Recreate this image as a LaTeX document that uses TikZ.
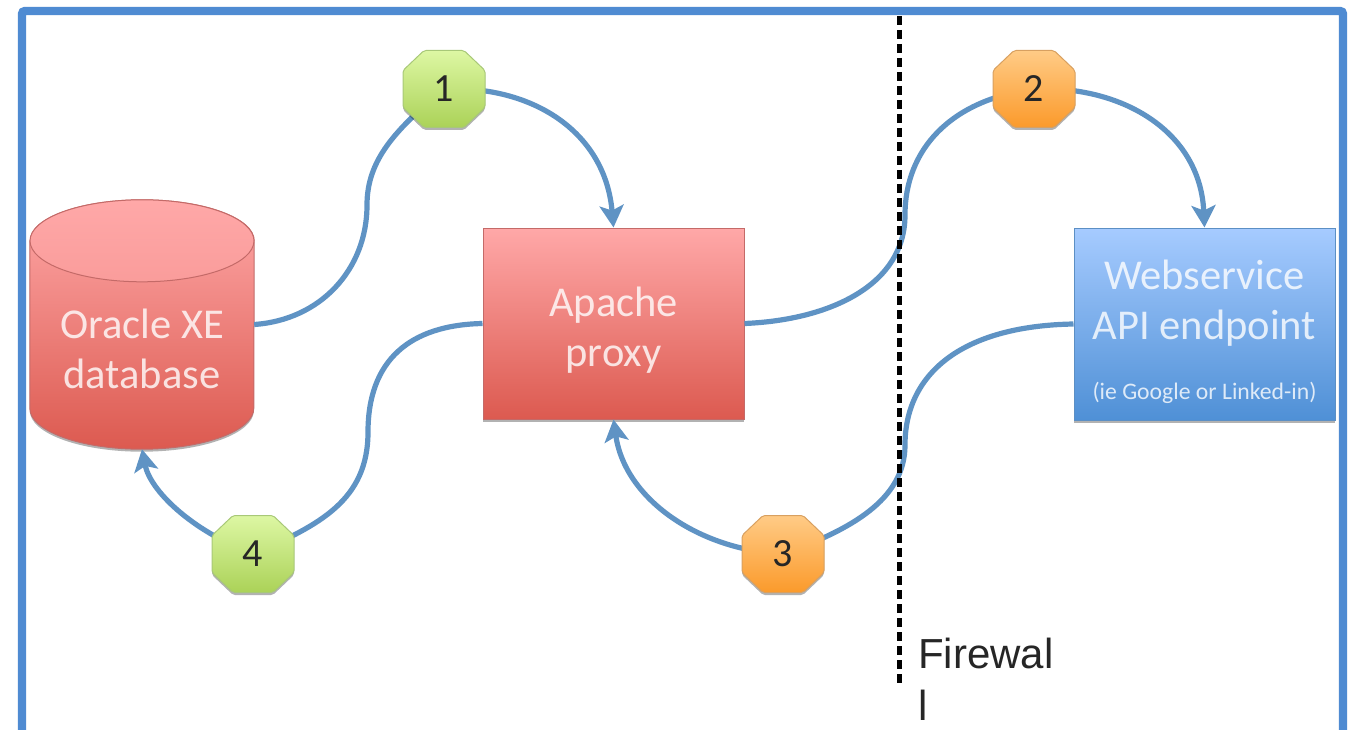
\documentclass[tikz,border=0pt]{standalone}
\usepackage{fontspec}
\setmainfont{Carlito}
\newfontfamily\arialf{Liberation Sans}
\usetikzlibrary{arrows.meta,backgrounds,calc,shadows}
\definecolor{framec}{HTML}{4F8BD2}
\definecolor{linkc}{HTML}{5F93C4}
\definecolor{redtop}{HTML}{FFA8A8}
\definecolor{redbot}{HTML}{DC5A50}
\definecolor{redline}{HTML}{C46A68}
\definecolor{bluetop}{HTML}{A6CBFF}
\definecolor{bluebot}{HTML}{4F90D6}
\definecolor{blueline}{HTML}{5C8FC4}
\definecolor{greentop}{HTML}{DDF7A4}
\definecolor{greenbot}{HTML}{ABD257}
\definecolor{greenline}{HTML}{A8C878}
\definecolor{orangetop}{HTML}{FFCB86}
\definecolor{orangebot}{HTML}{FB9A2B}
\definecolor{orangeline}{HTML}{D8A060}
\tikzset{
  x=1pt,y=-1pt,
  softshadow/.style={drop shadow={shadow xshift=0pt,shadow yshift=-2.5pt,opacity=.3,fill=black}},
  redbox/.style={draw=redline,line width=1pt,top color=redtop,bottom color=redbot,softshadow},
  bluebox/.style={draw=blueline,line width=1pt,top color=bluetop,bottom color=bluebot,softshadow},
  boxtext/.style={text=white,opacity=.8,text opacity=.8,font=\fontsize{42.5}{50}\selectfont,align=center,inner sep=0pt},
  spot/.style={inner sep=0pt,minimum width=82pt,minimum height=77pt,font=\fontsize{40}{40}\selectfont,text=black!85},
  link/.style={draw=linkc,line width=5.2pt},
  linkarrow/.style={link,-{Stealth[length=22pt,width=24pt,inset=5pt]}},
  greenspot/.style={draw=greenline,line width=1pt,rounded corners=2pt,top color=greentop,bottom color=greenbot,softshadow},
  orangespot/.style={draw=orangeline,line width=1pt,rounded corners=2pt,top color=orangetop,bottom color=orangebot,softshadow},
}
% octagon body drawn around a named node
\newcommand{\octagonat}[2]{%
  \path[#2] ($(#1.center)+(-20,-38.5)$) -- ($(#1.center)+(20,-38.5)$) -- ($(#1.center)+(41,-18.5)$)
    -- ($(#1.center)+(41,18.5)$) -- ($(#1.center)+(20,38.5)$) -- ($(#1.center)+(-20,38.5)$)
    -- ($(#1.center)+(-41,18.5)$) -- ($(#1.center)+(-41,-18.5)$) -- cycle;}
\begin{document}
\begin{tikzpicture}
\useasboundingbox (0,0) rectangle (1348,730);
% frame
\draw[framec,line width=8.4pt,rounded corners=3pt] (22,730) -- (22,11) -- (1343,11) -- (1343,730);
% boxes
\node[redbox,minimum width=261pt,minimum height=191pt,inner sep=0pt,anchor=center] (apache) at (613.5,323.5) {};
\node[bluebox,minimum width=261pt,minimum height=192pt,inner sep=0pt,anchor=center] (api) at (1204.5,324) {};
% database
\node[inner sep=0pt,minimum width=224pt,minimum height=249pt] (db) at (142,324.5) {};
\path[redbox] (db.north west) ++(0,41) -- ($(db.south west)+(0,-41)$)
  arc[start angle=180,end angle=360,x radius=112,y radius=-41]
  -- ($(db.north east)+(0,41)$)
  arc[start angle=0,end angle=180,x radius=112,y radius=-41] -- cycle;
\path[draw=redline,line width=1pt,top color=redtop,bottom color=redtop!85!redbot] ($(db.north)+(0,41)$) ellipse[x radius=112,y radius=41];
% texts
\node[boxtext] at ($(db.center)+(0,24)$) {Oracle XE\\database};
\node[boxtext] at ($(apache.center)+(0,7)$) {Apache\\proxy};
\node[boxtext] at ($(api.center)+(0,-21)$) {Webservice\\API endpoint};
\node[text=white,opacity=.8,text opacity=.8,font=\fontsize{23.7}{28}\selectfont,inner sep=0pt] at ($(api.center)+(0,69)$) {(ie Google or Linked-in)};
% numbered octagons
\node[spot] (n1) at (444,89) {};
\node[spot] (n2) at (1034,89) {};
\node[spot] (n3) at (783,554) {};
\node[spot] (n4) at (253,554) {};
% firewall label and line
\coordinate (fwtop) at (899,16);
\coordinate (fwbot) at (899,684);
\node[anchor=north west,inner sep=0pt,align=left,font=\arialf\fontsize{42}{52}\selectfont,text=black!85] (fw) at (918,638) {Firewal\\l};
% connectors
\coordinate (w1) at (367,205);
\coordinate (w2) at (905,215);
\coordinate (w3) at (905,445);
\coordinate (w4) at (368,432);
\draw[link] (db.east) .. controls (320,320) and (367,270) .. (w1)
  .. controls (367,160) and (395,130) .. (n1.center);
\draw[link] (apache.east) .. controls (830,320) and (905,285) .. (w2)
  .. controls (905,150) and (950,100) .. (n2.center);
\draw[link] (api.west) .. controls (960,326) and (905,375) .. (w3)
  .. controls (905,500) and (850,530) .. (n3.center);
\draw[link] (apache.west) .. controls (410,325) and (368,360) .. (w4)
  .. controls (368,500) and (320,525) .. (n4.center);
\draw[linkarrow] (n1.center) .. controls (530,85) and (605,130) .. (apache.north);
\draw[linkarrow] (n2.center) .. controls (1120,85) and (1200,130) .. (api.north);
\draw[linkarrow] (n3.center) .. controls (700,550) and (625,500) .. (apache.south);
\draw[linkarrow] (n4.center) .. controls (190,530) and (150,490) .. (db.south);
\octagonat{n1}{greenspot}
\octagonat{n2}{orangespot}
\octagonat{n3}{orangespot}
\octagonat{n4}{greenspot}
\node[spot] at (n1.center) {1};
\node[spot] at (n2.center) {2};
\node[spot] at (n3.center) {3};
\node[spot] at (n4.center) {4};
\draw[black,line width=5pt,dash pattern=on 9pt off 5pt] (fwtop) -- (fwbot);
\end{tikzpicture}
\end{document}
